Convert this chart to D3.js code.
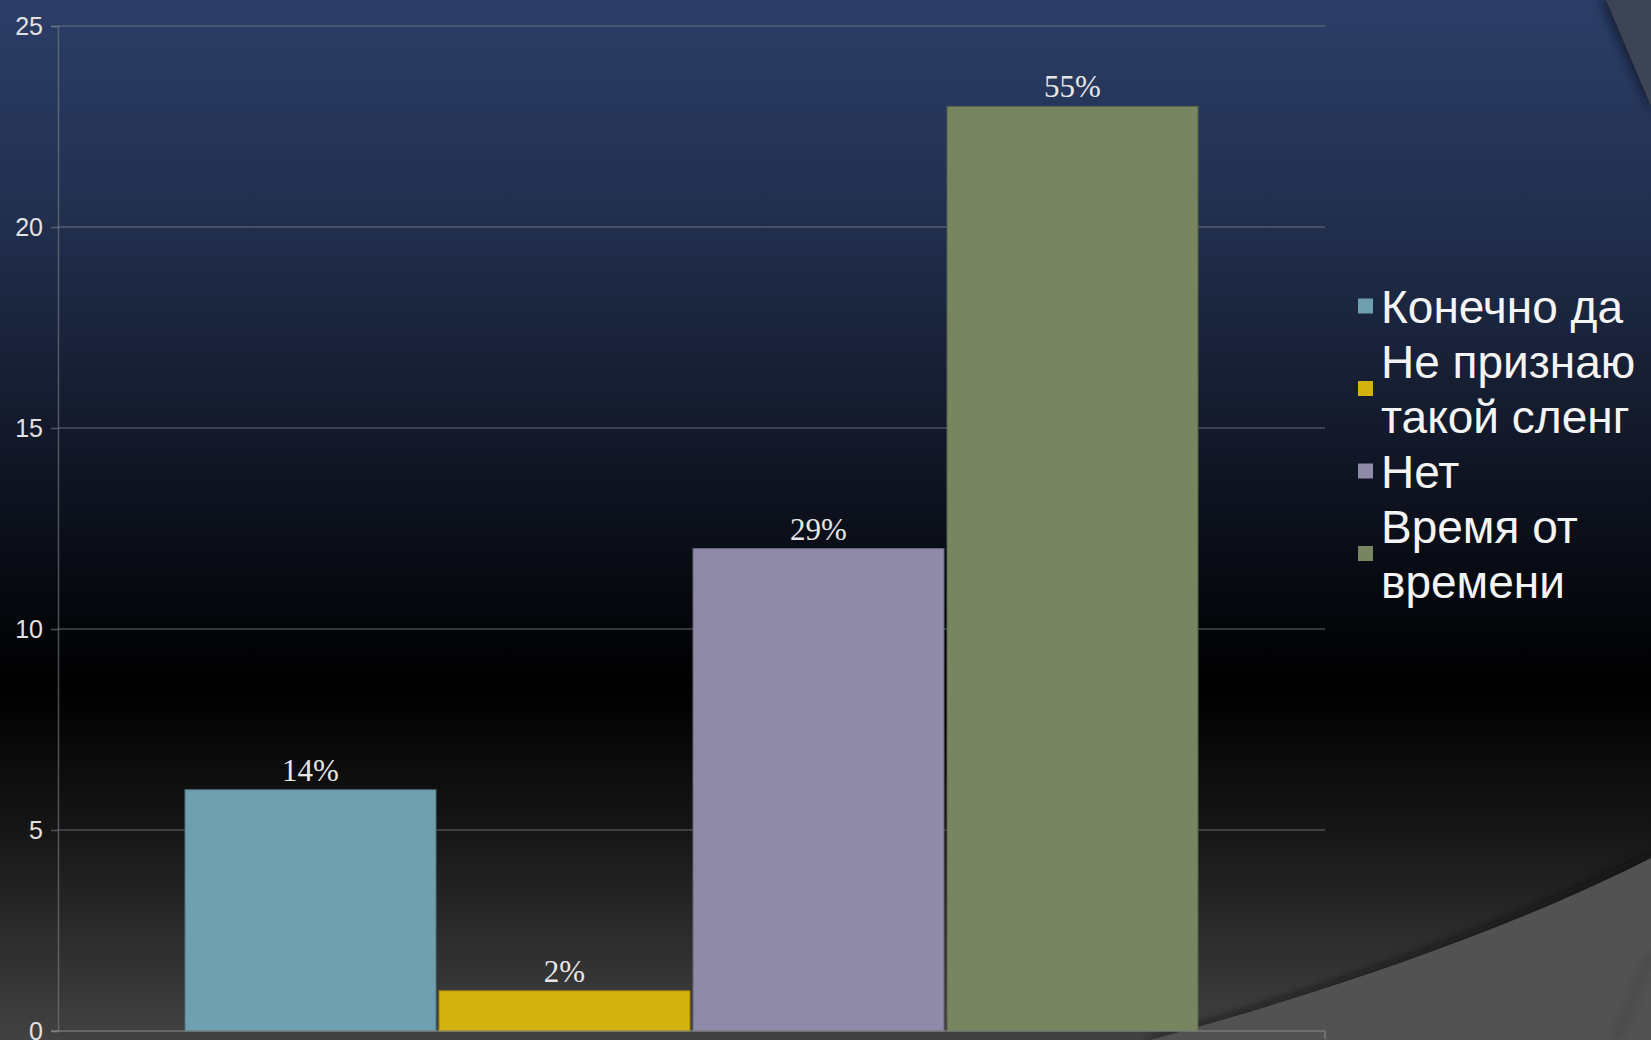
<!DOCTYPE html>
<html>
<head>
<meta charset="utf-8">
<script src="https://cdn.jsdelivr.net/npm/d3@7"></script>
<style>
  html, body { margin: 0; padding: 0; background: #000; overflow: hidden; }
  svg { display: block; }
</style>
</head>
<body>
<script>
// ---- data ----
const categories = ["Ответы"];
const seriesNames = ["Конечно да", "Не признаю такой сленг", "Нет", "Время от времени"];
const seriesValues = [6, 1, 12, 23];
const seriesLabels = ["14%", "2%", "29%", "55%"];
const legendLines = [["Конечно да"], ["Не признаю", "такой сленг"], ["Нет"], ["Время от", "времени"]];
const seriesColors = ["#6fa0b0", "#d3b10e", "#8e8aa8", "#778660"];
const yTicks = [0, 5, 10, 15, 20, 25];

const W = 1651, H = 1040;
const svg = d3.select("body").append("svg").attr("width", W).attr("height", H);
const defs = svg.append("defs");

// background gradient
const bg = defs.append("linearGradient").attr("id", "bg").attr("x1", 0).attr("y1", 0).attr("x2", 0).attr("y2", 1);
[[0, "#2c3e67"], [0.2, "#223050"], [0.4, "#141b2d"], [0.55, "#080b13"], [0.66, "#000000"], [0.8, "#161616"], [1, "#424242"]]
  .forEach(([o, c]) => bg.append("stop").attr("offset", o).attr("stop-color", c));
svg.append("rect").attr("width", W).attr("height", H).attr("fill", "url(#bg)");

// decorative theme shapes
const blur = defs.append("filter").attr("id", "soft").attr("x", "-20%").attr("y", "-20%").attr("width", "140%").attr("height", "140%");
blur.append("feGaussianBlur").attr("stdDeviation", 4);
// top-right wedge
svg.append("path").attr("d", "M1600,0 L1651,0 L1651,114 Z").attr("fill", "#0f1626").attr("filter", "url(#soft)").attr("opacity", 0.7);
svg.append("path").attr("d", "M1606,0 L1651,0 L1651,106 Z").attr("fill", "#3d4454");
// bottom-right curved shape
svg.append("path").attr("d", "M1140,1040 C1295,998 1495,932 1651,852 L1651,1040 Z").attr("fill", "#111").attr("filter", "url(#soft)").attr("opacity", 0.6);
svg.append("path").attr("d", "M1150,1040 C1300,1000 1500,935 1651,858 L1651,1040 Z").attr("fill", "#525252");
svg.append("path").attr("d", "M1651,955 L1615,1040").attr("stroke", "#3c3c3c").attr("stroke-width", 3).attr("fill", "none").attr("filter", "url(#soft)");

// ---- scales ----
const plotLeft = 58, plotRight = 1325, plotTop = 26, plotBottom = 1031;
const x0 = d3.scaleBand().domain(categories).range([plotLeft, plotRight]).paddingInner(0).paddingOuter(0.1254).align(0.5);
const x1 = d3.scaleBand().domain(seriesNames).range([0, x0.bandwidth()]).paddingInner(0.012).paddingOuter(0);
const y = d3.scaleLinear().domain([0, 25]).range([plotBottom, plotTop]);

// grid lines
svg.append("g").selectAll("line").data(yTicks.filter(t => t > 0)).join("line")
  .attr("x1", plotLeft).attr("x2", plotRight)
  .attr("y1", d => y(d)).attr("y2", d => y(d))
  .attr("stroke", "#7a7f88").attr("stroke-opacity", 0.55).attr("stroke-width", 1.5);

// y axis
const yAxis = svg.append("g").attr("transform", `translate(${plotLeft},0)`)
  .call(d3.axisLeft(y).tickValues(yTicks).tickSize(7).tickPadding(8).tickFormat(d3.format("d")));
yAxis.select(".domain").attr("stroke", "#7a7f88").attr("stroke-opacity", 0.6).attr("stroke-width", 1.5);
yAxis.selectAll(".tick line").attr("stroke", "#7a7f88").attr("stroke-opacity", 0.6).attr("stroke-width", 1.5);
yAxis.selectAll(".tick text").attr("fill", "#e2e2e2").style("font-family", "'Liberation Sans', Arial, sans-serif").style("font-size", "25px");

// bars
const data = seriesNames.map((s, i) => ({ s, v: seriesValues[i], label: seriesLabels[i], color: seriesColors[i] }));
const g = svg.append("g").attr("transform", `translate(${x0(categories[0])},0)`);
g.selectAll("rect").data(data).join("rect")
  .attr("x", d => x1(d.s)).attr("width", x1.bandwidth())
  .attr("y", d => y(d.v)).attr("height", d => y(0) - y(d.v))
  .attr("fill", d => d.color)
  .attr("stroke", d => d3.color(d.color).darker(0.8)).attr("stroke-width", 1);

g.selectAll("text.lbl").data(data).join("text").attr("class", "lbl")
  .attr("x", d => x1(d.s) + x1.bandwidth() / 2)
  .attr("y", d => y(d.v) - 9)
  .attr("text-anchor", "middle")
  .attr("fill", "#e6e6e6")
  .style("font-family", "'Liberation Serif', 'Times New Roman', serif")
  .style("font-size", "31px")
  .text(d => d.label);

// x axis line
svg.append("line").attr("x1", plotLeft - 7).attr("x2", plotRight).attr("y1", plotBottom).attr("y2", plotBottom)
  .attr("stroke", "#8a8a8a").attr("stroke-opacity", 0.7).attr("stroke-width", 1.5);
svg.append("line").attr("x1", plotRight).attr("x2", plotRight).attr("y1", plotBottom).attr("y2", plotBottom + 8)
  .attr("stroke", "#8a8a8a").attr("stroke-opacity", 0.7).attr("stroke-width", 1.5);

// legend
const lineH = 55, firstBase = 323;
const legend = svg.append("g");
let base = firstBase;
legendLines.forEach((lines, i) => {
  const n = lines.length;
  const cy = base - 17 + (n - 1) * lineH / 2;
  legend.append("rect").attr("x", 1358).attr("y", cy - 7.5).attr("width", 15).attr("height", 15).attr("fill", seriesColors[i]);
  lines.forEach((t, k) => {
    legend.append("text")
      .attr("x", 1381).attr("y", base + k * lineH)
      .attr("fill", "#f4f4f4")
      .style("font-family", "'Liberation Sans', Arial, sans-serif")
      .style("font-size", "46px")
      .text(t);
  });
  base += n * lineH;
});
</script>
</body>
</html>
